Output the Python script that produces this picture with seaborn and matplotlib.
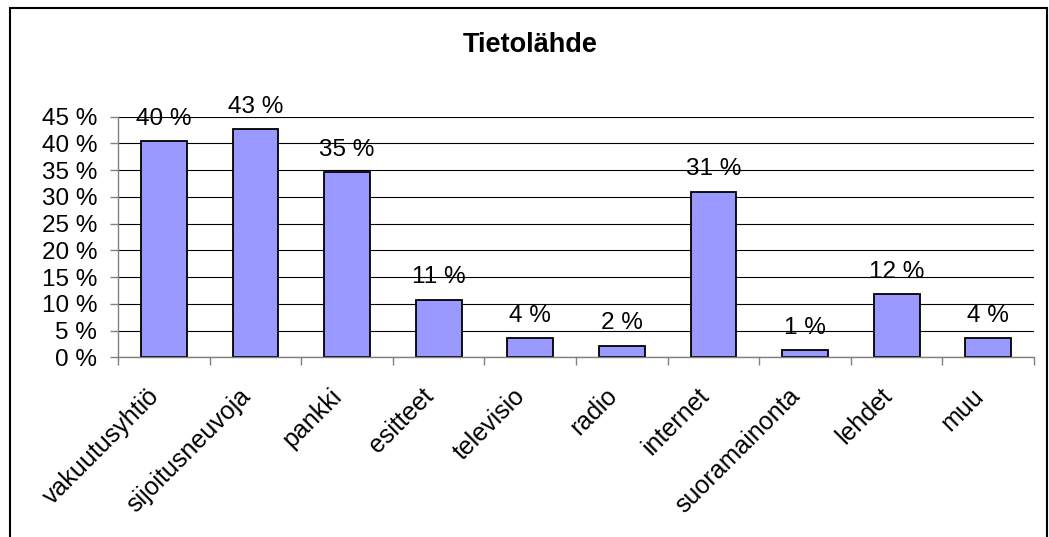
import numpy as np
import matplotlib
matplotlib.use("Agg")
import matplotlib.pyplot as plt
from matplotlib.patches import Rectangle
from matplotlib.ticker import FixedLocator, FuncFormatter
from matplotlib.transforms import ScaledTranslation
import seaborn as sns

categories = ["vakuutusyhtiö", "sijoitusneuvoja", "pankki", "esitteet", "televisio",
              "radio", "internet", "suoramainonta", "lehdet", "muu"]
values = [40.4, 42.7, 34.6, 10.8, 3.6, 2.2, 31.0, 1.3, 11.8, 3.6]
y_ticks = [0, 5, 10, 15, 20, 25, 30, 35, 40, 45]
title = "Tietolähde"

sns.set_style("white")
plt.rcParams["font.family"] = ["Liberation Sans", "DejaVu Sans"]
plt.rcParams["text.color"] = "black"
plt.rcParams["xtick.labelcolor"] = "black"
plt.rcParams["ytick.labelcolor"] = "black"

W, H = 1049, 537
fig = plt.figure(figsize=(W / 100, H / 100), dpi=100)
left, right, top, bottom = 118, 1034, 116.7, 357.3
ax = fig.add_axes([left / W, 1 - bottom / H, (right - left) / W, (bottom - top) / H])

sns.barplot(x=categories, y=values, color="#9999FF", saturation=1, width=0.5,
            edgecolor="black", linewidth=1.3, ax=ax, zorder=3)

ax.set_ylim(0, 45)
ax.set_xlim(-0.5, len(categories) - 0.5)
ax.set_yticks(y_ticks)
ax.yaxis.set_major_formatter(FuncFormatter(lambda v, p: f"{v:.0f} %"))
ax.tick_params(axis="y", length=6, width=1, color="#808080", pad=9, labelsize=17.5,
               direction="out", left=True)

# category boundary ticks (major), labels on centers (minor)
ax.xaxis.set_major_locator(FixedLocator(np.arange(-0.5, len(categories), 1.0)))
ax.xaxis.set_major_formatter(FuncFormatter(lambda v, p: ""))
ax.set_xticks(np.arange(len(categories)), minor=True)
ax.set_xticklabels(categories, minor=True, rotation=45, ha="right",
                   rotation_mode="anchor", fontsize=18)
ax.tick_params(axis="x", which="major", length=6, width=1, color="#808080",
               direction="out", bottom=True)
ax.tick_params(axis="x", which="minor", length=0, pad=19)
offset = ScaledTranslation(-17 / 100, 0, fig.dpi_scale_trans)
for lab in ax.get_xticklabels(minor=True):
    lab.set_transform(lab.get_transform() + offset)
ax.set_xlabel("")
ax.set_ylabel("")

ax.yaxis.grid(True, color="black", linewidth=0.8)
ax.set_axisbelow(True)
for s in ["top", "right"]:
    ax.spines[s].set_visible(False)
for s in ["left", "bottom"]:
    ax.spines[s].set_color("#808080")
    ax.spines[s].set_linewidth(1.0)
    ax.spines[s].set_zorder(4)

for c in ax.containers:
    ax.bar_label(c, labels=[f"{v:.0f} %" for v in values], padding=8, fontsize=17.5)

fig.text(530 / W, 1 - 52.3 / H, title, ha="center", va="baseline",
         fontsize=19.5, fontweight="bold")

fig.patches.append(Rectangle((10 / W, -0.1), (1047 - 10) / W, (1 - 7.5 / H) + 0.1,
                             transform=fig.transFigure, fill=False,
                             edgecolor="black", linewidth=1.5))

fig.savefig("out.png", dpi=100)
